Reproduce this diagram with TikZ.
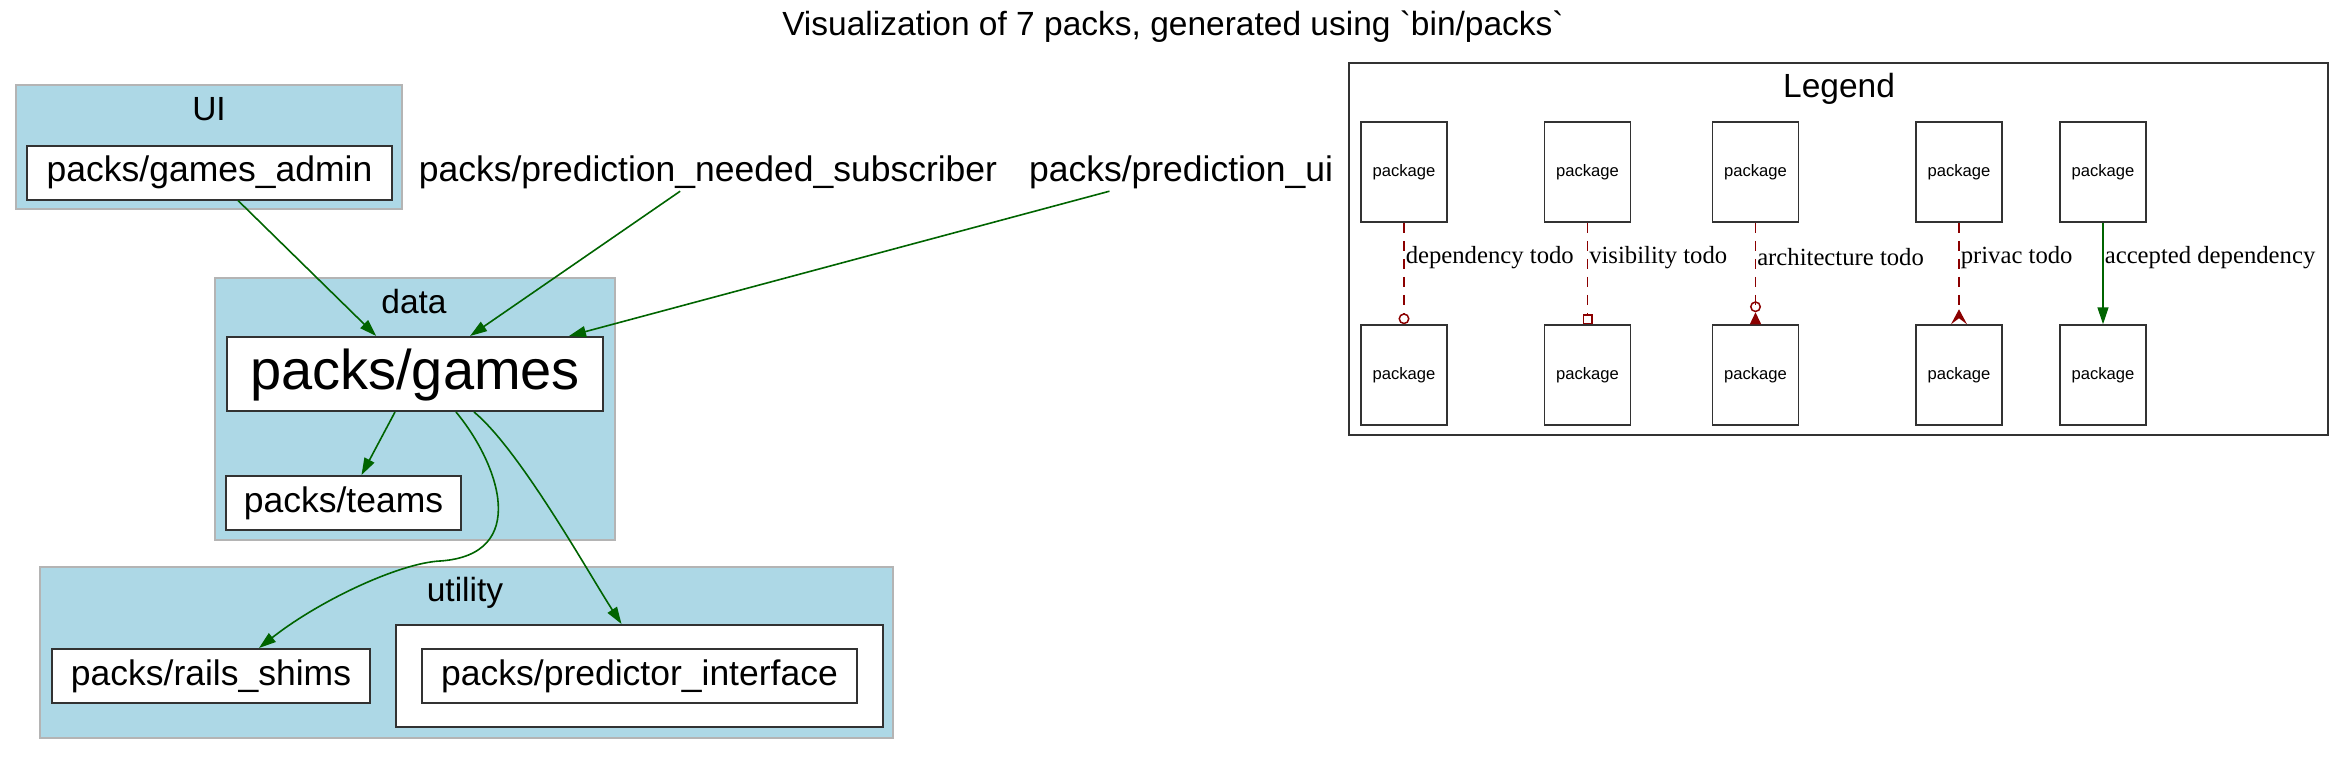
\documentclass[tikz,border=0pt]{standalone}
\usepackage{fontspec}
\setmainfont{Liberation Sans}
\setmonofont{Liberation Sans}
\newfontfamily\edgefont{Liberation Serif}
\usetikzlibrary{arrows.meta}
\definecolor{clusterfill}{RGB}{173,216,230}
\definecolor{clusterline}{RGB}{180,180,180}
\definecolor{boxline}{RGB}{50,50,50}
\definecolor{todored}{RGB}{139,0,0}
\definecolor{okgreen}{RGB}{0,100,0}

\begin{document}
\begin{tikzpicture}[x=1pt,y=-1pt,
    cluster/.style={fill=clusterfill,draw=clusterline,line width=2pt},
    grouplabel/.style={anchor=base,font=\fontsize{33.5}{38}\selectfont},
    packtext/.style={inner sep=0pt,text height=25.5pt,text depth=7.5pt,font=\fontsize{35.5}{40}\selectfont},
    pack/.style={packtext,draw=boxline,fill=white,line width=2pt,minimum height=54pt},
    legendpack/.style={draw=boxline,fill=white,line width=1.5pt,inner sep=0pt,minimum width=86pt,minimum height=100pt,font=\fontsize{16.6}{20}\selectfont},
    dep/.style={draw=okgreen,line width=1.6pt,-{Triangle[length=17pt,width=11pt]}},
    todo/.style={draw=todored,line width=1.5pt,dash pattern=on 10pt off 8pt},
    edgelabel/.style={anchor=west,inner sep=1pt,pos=0.34,font=\edgefont\fontsize{24.7}{28}\selectfont}]
    \useasboundingbox (0,0) rectangle (2346,756);

    \node[font=\fontsize{33.5}{38}\selectfont] (title) at (1173,27) {Visualization of 7 packs, generated using {\ttfamily`}bin/packs{\ttfamily`}};

    \draw[cluster] (16,85) rectangle (402,209);
    \node[grouplabel] (ui) at (209,120) {UI};
    \draw[cluster] (215,278) rectangle (615,540);
    \node[grouplabel] (data) at (414,313) {data};
    \draw[cluster] (40,567) rectangle (893,738);
    \node[grouplabel] (utility) at (465,601) {utility};

    \node[pack,minimum width=365pt] (admin) at (209.5,172.5) {packs/games\_admin};
    \node[packtext,minimum height=38pt] (pns) at (708,172) {packs/prediction\_needed\_subscriber};
    \node[packtext,minimum height=38pt] (pui) at (1181,172) {packs/prediction\_ui};
    \node[pack,minimum width=376pt,minimum height=74pt,text height=40pt,text depth=9pt,font=\fontsize{56}{60}\selectfont] (games) at (415,374) {packs/games};
    \node[pack,minimum width=235pt] (teams) at (343.5,503) {packs/teams};
    \node[pack,minimum width=318pt] (rails) at (211,676) {packs/rails\_shims};
    \node[pack,minimum width=487pt,minimum height=102pt] (predictorbox) at (639.5,676) {};
    \node[pack,minimum width=435pt] (predictor) at (639.5,676) {packs/predictor\_interface};

    \draw[dep] (admin) -- (games);
    \draw[dep] (pns) -- (games);
    \draw[dep] (pui) -- ([xshift=-35pt]games.north east);
    \draw[dep] ([xshift=-20pt]games.south) -- ([xshift=18pt]teams.north);
    \draw[dep] ([xshift=41pt]games.south) .. controls (500,465) and (530,555) .. (440,561)
        .. controls (400,563) and (320,600) .. ([xshift=48pt]rails.north);
    \draw[dep] ([xshift=59pt]games.south) .. controls (520,450) and (589,574) .. ([xshift=-18pt]predictorbox.north);

    \draw[draw=boxline,line width=2pt] (1349,63) rectangle (2328,435);
    \node[grouplabel] (legend) at (1839,97) {Legend};

    \node[legendpack] (a1) at (1404,172) {package};
    \node[legendpack] (b1) at (1404,375) {package};
    \node[legendpack] (a2) at (1587.5,172) {package};
    \node[legendpack] (b2) at (1587.5,375) {package};
    \node[legendpack] (a3) at (1755.5,172) {package};
    \node[legendpack] (b3) at (1755.5,375) {package};
    \node[legendpack] (a4) at (1959,172) {package};
    \node[legendpack] (b4) at (1959,375) {package};
    \node[legendpack] (a5) at (2103,172) {package};
    \node[legendpack] (b5) at (2103,375) {package};

    \draw[todo,-{Circle[open,length=11pt,width=11pt]}] (a1) -- node[edgelabel] {dependency todo} (b1);
    \draw[todo,-{Square[open,length=10pt,width=10pt]}] (a2) -- node[edgelabel] {visibility todo} (b2);
    \draw[todo,-{Circle[open,length=11pt,width=11pt]Triangle[reversed,length=12pt,width=11pt]}] (a3) -- node[edgelabel] {architecture todo} (b3);
    \draw[todo,-{Stealth[reversed,length=15pt,width=16pt,inset=6pt]}] (a4) -- node[edgelabel] {privac todo} (b4);
    \draw[dep] (a5) -- node[edgelabel] {accepted dependency} (b5);
\end{tikzpicture}
\end{document}
